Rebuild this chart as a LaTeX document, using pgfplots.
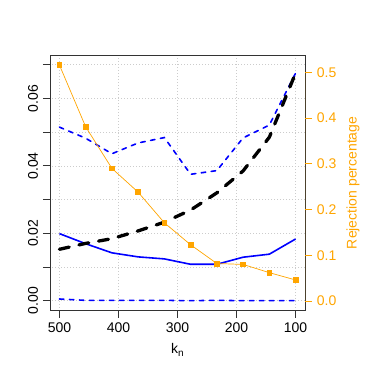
\documentclass[border=0pt]{standalone}
\usepackage{pgfplots}
\pgfplotsset{compat=1.18}
\usepackage{fontspec}
\setmainfont{Liberation Sans}
\definecolor{ROrange}{RGB}{255,165,0}
\definecolor{RBlue}{RGB}{0,0,255}
\begin{document}
\fontsize{14}{16}\selectfont
\begin{tikzpicture}
\path[use as bounding box] (-50pt,-68.3pt) rectangle (329pt,310.7pt);
\begin{axis}[
 scale only axis, width=255pt, height=255.7pt,
 at={(0pt,0pt)}, anchor=south west,
 x dir=reverse, xmin=84, xmax=516,
 ymin=-0.00297, ymax=0.0729,
 scaled y ticks=false,
 xtick={100,200,300,400,500}, xticklabels={100,200,300,400,500},
 ytick={0,0.02,0.04,0.06}, yticklabels={0.00,0.02,0.04,0.06},
 minor ytick={0.01,0.03,0.05,0.07},
 xtick pos=lower, ytick pos=left,
 tick align=outside, major tick length=7pt, minor tick length=7pt,
 grid=both,
 major grid style={black!20, line width=0.6pt, dash pattern=on 0.8pt off 2.2pt},
 minor grid style={black!20, line width=0.6pt, dash pattern=on 0.8pt off 2.2pt},
 axis line style={black!80, line width=0.8pt},
 every tick/.style={black!80, line width=0.8pt},
 minor tick style={black!80, line width=0.8pt},
 yticklabel style={rotate=90, anchor=south, font=\fontsize{14}{16}\selectfont},
 xticklabel style={font=\fontsize{14}{16}\selectfont},
 xlabel={k\raisebox{-0.35ex}{\fontsize{10}{10}\selectfont n}},
 xlabel style={at={(axis description cs:0.5,0)}, anchor=center, yshift=-39pt, font=\fontsize{14}{16}\selectfont},
]
\addplot[RBlue, line width=1.6pt, line join=round] coordinates {
(500,0.0199)(455.56,0.0169)(411.11,0.0142)(366.67,0.0130)(322.22,0.0124)(277.78,0.0108)(233.33,0.0108)(188.89,0.0129)(144.44,0.0138)(100,0.0183)};
\addplot[RBlue, line width=1.6pt, line cap=round, dash pattern=on 4.5pt off 5.5pt] coordinates {
(500,0.0515)(455.56,0.0482)(411.11,0.0436)(366.67,0.0468)(322.22,0.0484)(277.78,0.0375)(233.33,0.0386)(188.89,0.0483)(144.44,0.0521)(100,0.0675)};
\addplot[RBlue, line width=1.6pt, line cap=round, dash pattern=on 4.5pt off 5.5pt] coordinates {
(500,0.0005)(455.56,0.0001)(411.11,0.0001)(366.67,0.0001)(322.22,0.0001)(277.78,0.0000)(233.33,0.0001)(188.89,0.0000)(144.44,0.0000)(100,0.0000)};
\addplot[black, line width=3.3pt, line cap=round, dash pattern=on 10pt off 10pt] coordinates {
(500,0.01525)(455.56,0.0170)(411.11,0.0184)(366.67,0.0207)(322.22,0.0233)(277.78,0.0269)(233.33,0.0320)(188.89,0.0385)(144.44,0.0485)(100,0.0675)};
\end{axis}
\begin{axis}[
 scale only axis, width=255pt, height=255.7pt,
 at={(0pt,0pt)}, anchor=south west,
 x dir=reverse, xmin=84, xmax=516,
 ymin=-0.0212, ymax=0.538,
 axis x line=none, axis y line*=right,
 y axis line style={draw=none},
 ytick={0,0.1,0.2,0.3,0.4,0.5}, yticklabels={0.0,0.1,0.2,0.3,0.4,0.5},
 ytick pos=right,
 tick align=outside, major tick length=7pt,
 every tick/.style={ROrange, line width=0.8pt},
 yticklabel style={ROrange, anchor=west, font=\fontsize{14}{16}\selectfont},
 ylabel={Rejection percentage},
 ylabel style={ROrange, at={(axis description cs:1,0.5)}, anchor=center, yshift=-48pt, font=\fontsize{14}{16}\selectfont},
]
\draw[ROrange, line width=0.8pt] ({rel axis cs:1,0} |- {axis cs:300,0}) -- ({rel axis cs:1,0} |- {axis cs:300,0.5});
\addplot[ROrange, line width=0.7pt, mark=square*, mark size=2.4pt, mark options={solid, fill=ROrange, draw=ROrange}] coordinates {
(500,0.516)(455.56,0.381)(411.11,0.290)(366.67,0.238)(322.22,0.171)(277.78,0.123)(233.33,0.082)(188.89,0.080)(144.44,0.062)(100,0.046)};
\end{axis}
\end{tikzpicture}
\end{document}
